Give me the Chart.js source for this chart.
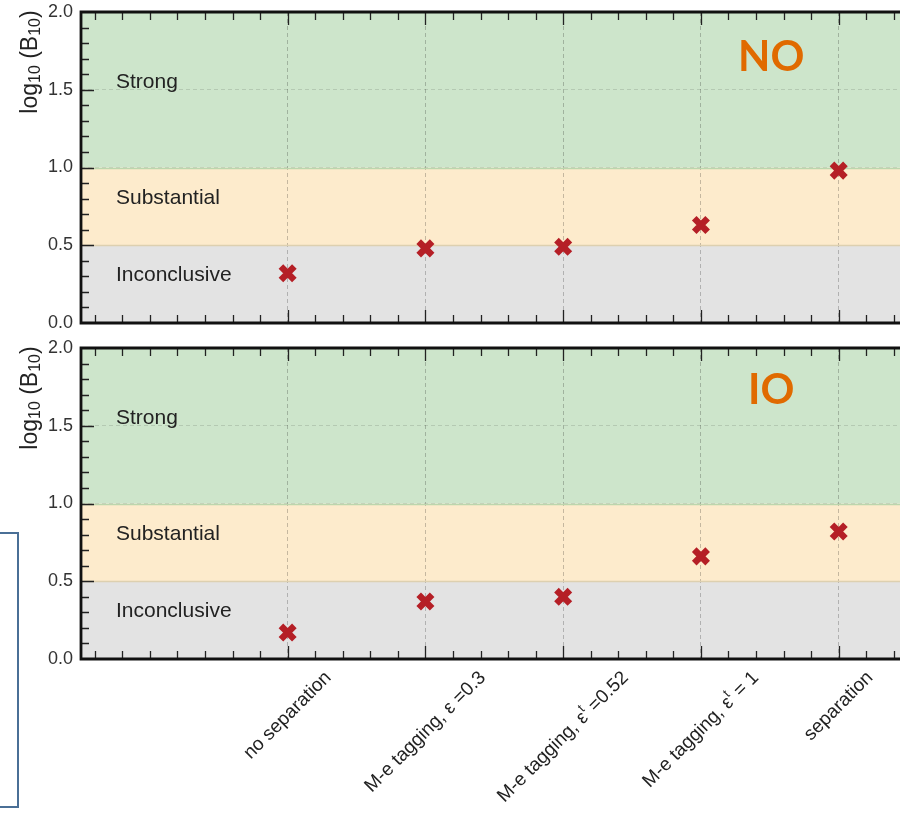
<!DOCTYPE html>
<html>
<head>
<meta charset="utf-8">
<script src="https://cdn.jsdelivr.net/npm/chart.js@4.4.1/dist/chart.umd.min.js"></script>
<style>
  html, body { margin: 0; padding: 0; background: #fff; overflow: hidden; }
  #page { position: relative; width: 900px; height: 814px; overflow: hidden; }
  canvas { position: absolute; left: 0; }
  #chartNO { top: 0; }
  #chartIO { top: 336px; }
  .stray { position: absolute; left: 0; top: 532px; width: 17px; height: 272px; border: 2px solid #4a6f96; border-left: none; }
</style>
</head>
<body>
<div id="page">
<div class="stray"></div>
<canvas id="chartNO" width="900" height="338"></canvas>
<canvas id="chartIO" width="900" height="478"></canvas>
</div>
<script>
const categories = ['no separation', 'M-e tagging, ε =0.3', 'M-e tagging, ε^t =0.52', 'M-e tagging, ε^t = 1', 'separation'];
const valuesNO = [0.32, 0.48, 0.49, 0.63, 0.98];
const valuesIO = [0.17, 0.37, 0.40, 0.66, 0.82];
const yTicks = [0.0, 0.5, 1.0, 1.5, 2.0];
const bandEdges = [0, 0.5, 1.0, 2.0];
const bandNames = ['Inconclusive', 'Substantial', 'Strong'];
const bandLabelY = [0.31, 0.80, 1.55];
const bandFill = ['#e3e3e3', '#fdebcc', '#cde5cb'];
const bandEdgeColor = ['#ddd0b0', '#bcd6ad'];

const FONT = '"Liberation Sans", Arial, Helvetica, sans-serif';

// split 'ε^t' into normal / superscript pieces
function parseLabel(s) {
    const parts = [];
    const re = /\^(\w)/g;
    let last = 0, m;
    while ((m = re.exec(s))) {
        if (m.index > last) parts.push({ t: s.slice(last, m.index), sup: false });
        parts.push({ t: m[1], sup: true });
        last = re.lastIndex;
    }
    if (last < s.length) parts.push({ t: s.slice(last), sup: false });
    return parts;
}

function drawYTitle(ctx, area) {
    const parts = [
        { t: 'log', sub: false }, { t: '10', sub: true }, { t: ' (B', sub: false },
        { t: '10', sub: true }, { t: ')', sub: false }
    ];
    let total = 0;
    parts.forEach(p => {
        ctx.font = (p.sub ? '16px ' : '23px ') + FONT;
        p.w = ctx.measureText(p.t).width;
        total += p.w;
    });
    ctx.save();
    ctx.translate(31, area.top + 50);
    ctx.rotate(-Math.PI / 2);
    ctx.fillStyle = '#222';
    ctx.textBaseline = 'middle';
    ctx.textAlign = 'left';
    let cx = -total / 2;
    parts.forEach(p => {
        ctx.font = (p.sub ? '16px ' : '23px ') + FONT;
        ctx.fillText(p.t, cx, p.sub ? 5 : 0);
        cx += p.w;
    });
    ctx.restore();
}

function drawXLabels(ctx, chart) {
    const xs = chart.scales.x;
    const top = chart.chartArea.bottom + 9;
    categories.forEach((c, i) => {
        const parts = parseLabel(c);
        let L = 0;
        parts.forEach(p => {
            ctx.font = (p.sup ? '13px ' : '19px ') + FONT;
            p.w = ctx.measureText(p.t).width;
            L += p.w;
        });
        const side = (L + 19) * Math.SQRT1_2;
        ctx.save();
        ctx.translate(xs.getPixelForValue(i), top + side / 2);
        ctx.rotate(-Math.PI / 4);
        ctx.fillStyle = '#222';
        ctx.textBaseline = 'middle';
        ctx.textAlign = 'left';
        let cx = -L / 2;
        parts.forEach(p => {
            ctx.font = (p.sup ? '13px ' : '19px ') + FONT;
            ctx.fillText(p.t, cx, p.sup ? -7 : 0);
            cx += p.w;
        });
        ctx.restore();
    });
}

function panelPlugin(name, nameY, showXLabels) {
    return {
        id: 'panel' + name,
        beforeDraw(chart) {
            const { ctx, chartArea: a, scales: { y } } = chart;
            ctx.save();
            bandFill.forEach((col, i) => {
                const y0 = y.getPixelForValue(bandEdges[i]);
                const y1 = y.getPixelForValue(bandEdges[i + 1]);
                ctx.fillStyle = col;
                ctx.fillRect(a.left, y1, a.right - a.left + 2, y0 - y1);
            });
            ctx.restore();
        },
        beforeDatasetsDraw(chart) {
            const { ctx, chartArea: a, scales: { x, y } } = chart;
            ctx.save();
            // band borders
            bandEdgeColor.forEach((col, i) => {
                const py = Math.round(y.getPixelForValue(bandEdges[i + 1])) + 0.5;
                ctx.strokeStyle = col;
                ctx.lineWidth = 1.5;
                ctx.beginPath();
                ctx.moveTo(a.left, py);
                ctx.lineTo(a.right + 2, py);
                ctx.stroke();
            });
            // band names
            ctx.fillStyle = '#222';
            ctx.font = '21px ' + FONT;
            ctx.textBaseline = 'middle';
            ctx.textAlign = 'left';
            bandNames.forEach((n, i) => ctx.fillText(n, a.left + 35, y.getPixelForValue(bandLabelY[i])));
            // panel name
            ctx.fillStyle = '#e06a00';
            ctx.font = 'bold 42px Lato, "Open Sans", sans-serif';
            ctx.textAlign = 'center';
            ctx.fillText(name, x.getPixelForValue(3.51), y.getPixelForValue(nameY));
            ctx.restore();
        },
        afterDraw(chart) {
            const { ctx, chartArea: a, scales: { x, y } } = chart;
            const right = ctx.canvas.width + 5;
            ctx.save();
            // inward ticks
            ctx.strokeStyle = '#222';
            ctx.lineWidth = 1.3;
            ctx.beginPath();
            for (let k = -7; k <= 22; k++) {
                const v = k * 0.2;
                const major = k % 5 === 0 && k >= 0 && k <= 20;
                const len = major ? 13 : 8;
                const px = Math.round(x.getPixelForValue(v)) + 0.5;
                ctx.moveTo(px, a.bottom); ctx.lineTo(px, a.bottom - len);
                ctx.moveTo(px, a.top); ctx.lineTo(px, a.top + len);
            }
            for (let k = 1; k < 20; k++) {
                const len = k % 5 === 0 ? 13 : 8;
                const py = Math.round(y.getPixelForValue(k * 0.1)) + 0.5;
                ctx.moveTo(a.left, py); ctx.lineTo(a.left + len, py);
            }
            ctx.stroke();
            // frame (right spine lies past the picture edge)
            ctx.strokeStyle = '#111';
            ctx.lineWidth = 2.8;
            ctx.beginPath();
            ctx.moveTo(right, a.top);
            ctx.lineTo(a.left, a.top);
            ctx.lineTo(a.left, a.bottom);
            ctx.lineTo(right, a.bottom);
            ctx.stroke();
            ctx.restore();
            drawYTitle(ctx, a);
            if (showXLabels) drawXLabels(ctx, chart);
        }
    };
}

function makeChart(id, values, name, nameY, showXLabels, bottomPad) {
    return new Chart(document.getElementById(id), {
        type: 'scatter',
        data: {
            datasets: [{
                data: values.map((v, i) => ({ x: i, y: v })),
                pointStyle: 'crossRot',
                radius: 9.5,
                hoverRadius: 9.5,
                borderWidth: 6.5,
                hoverBorderWidth: 6.5,
                borderColor: '#b51f26',
                backgroundColor: '#b51f26'
            }]
        },
        options: {
            responsive: false,
            animation: false,
            events: [],
            layout: { autoPadding: false, padding: { left: 0, top: 12, right: 0, bottom: bottomPad } },
            plugins: { legend: { display: false }, tooltip: { enabled: false } },
            scales: {
                x: {
                    type: 'linear',
                    min: -1.5,
                    max: 4.445,
                    afterBuildTicks: s => { s.ticks = categories.map((_, i) => ({ value: i })); },
                    afterFit: s => {
                        s.height = 0;
                        s.paddingLeft = 0; s.paddingRight = 0;
                        s.paddingTop = 0; s.paddingBottom = 0;
                    },
                    ticks: { display: false },
                    grid: { color: 'rgba(0,0,0,0.22)', lineWidth: 1, drawTicks: false },
                    border: { display: false, dash: [4, 3] }
                },
                y: {
                    min: 0,
                    max: 2,
                    afterBuildTicks: s => { s.ticks = yTicks.map(v => ({ value: v })); },
                    afterFit: s => {
                        s.width = 81;
                        s.paddingLeft = 0; s.paddingRight = 0;
                        s.paddingTop = 0; s.paddingBottom = 0;
                    },
                    ticks: {
                        callback: v => v.toFixed(1),
                        font: { family: FONT, size: 18 },
                        color: '#333',
                        padding: 8
                    },
                    grid: { color: 'rgba(0,0,0,0.12)', lineWidth: 1, drawTicks: false },
                    border: { display: false, dash: [4, 3] }
                }
            }
        },
        plugins: [panelPlugin(name, nameY, showXLabels)]
    });
}

makeChart('chartNO', valuesNO, 'NO', 1.71, false, 15);
makeChart('chartIO', valuesIO, 'IO', 1.73, true, 155);
</script>
</body>
</html>
